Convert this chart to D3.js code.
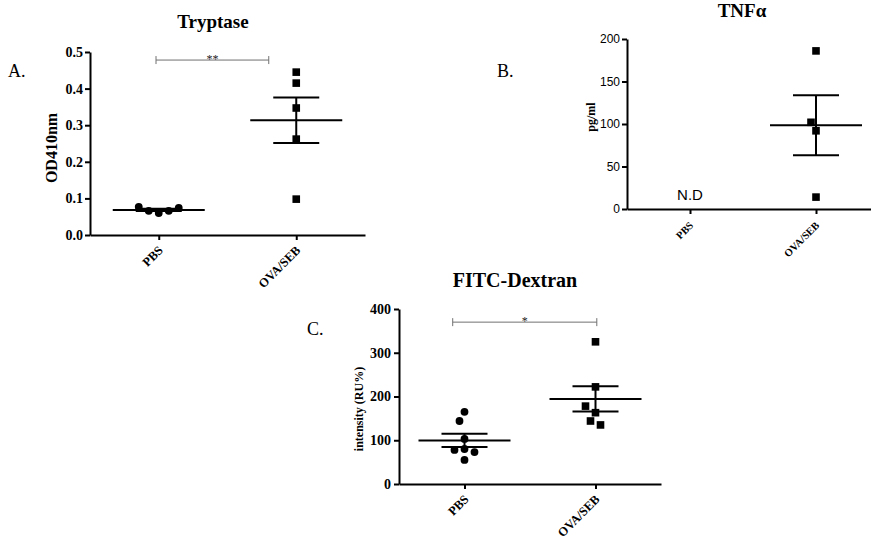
<!DOCTYPE html>
<html>
<head>
<meta charset="utf-8">
<script src="https://cdn.jsdelivr.net/npm/d3@7"></script>
<style>
  body { margin: 0; background: #fff; }
  svg { display: block; }
</style>
</head>
<body>
<svg id="chart" width="871" height="552"></svg>
<script>
const groups = ["PBS", "OVA/SEB"];

// Tryptase, OD410nm
const tryptasePBS = [0.060, 0.066, 0.066, 0.077, 0.074];
const tryptaseOVA = [0.445, 0.415, 0.347, 0.262, 0.098];
const tryptaseTicks = [0, 0.1, 0.2, 0.3, 0.4, 0.5];

// TNFa, pg/ml (PBS not detected)
const tnfPBS = [];
const tnfOVA = [186, 92, 102, 14];
const tnfTicks = [0, 50, 100, 150, 200];

// FITC-Dextran, intensity (RU%)
const fitcPBS = [165, 144, 103, 80, 78, 73, 55];
const fitcOVA = [325, 222, 163, 178, 144, 135];
const fitcTicks = [0, 100, 200, 300, 400];

// significance brackets: ends in category index units, height in data units
const tryptaseSig = { from: -0.02, to: 0.8, y: 0.478, text: "**" };
const fitcSig = { from: -0.09, to: 1.01, y: 370, text: "*" };

const svg = d3.select("#chart");
const defs = svg.append("defs");
const serif = "'Liberation Serif', 'Times New Roman', serif";
const sans = "'Liberation Sans', Arial, sans-serif";
let pathId = 0;

// simple beeswarm so points with close values get spread sideways
function swarm(values, y, step, minDist) {
  const placed = [];
  return values.map(v => {
    const py = y(v);
    let k = 0, dx = 0;
    while (true) {
      dx = k === 0 ? 0 : (k % 2 ? -1 : 1) * Math.ceil(k / 2) * step;
      if (placed.every(p => Math.hypot(p.dx - dx, p.py - py) >= minDist)) break;
      k++;
    }
    placed.push({ dx, py });
    return { v, dx, py };
  });
}

function drawPanel(cfg) {
  const g = svg.append("g");

  const x = d3.scalePoint().domain(groups).range([cfg.x0, cfg.x1]).padding(0.5);
  const y = d3.scaleLinear().domain(cfg.domain).range([cfg.yBottom, cfg.yTop]);

  // y axis
  const yAxis = g.append("g")
    .attr("transform", `translate(${cfg.x0},0)`)
    .call(d3.axisLeft(y).tickValues(cfg.ticks).tickFormat(cfg.fmt).tickSize(5).tickSizeOuter(0).tickPadding(cfg.tickPad));
  yAxis.selectAll("text")
    .attr("fill", "#000")
    .style("font-family", cfg.tickFont)
    .style("font-weight", cfg.tickWeight)
    .style("font-size", cfg.tickSize + "px");

  // x axis, labels run along a 45 degree path ending under each tick
  g.append("g")
    .attr("transform", `translate(0,${cfg.yBottom})`)
    .call(d3.axisBottom(x).tickSize(5).tickSizeOuter(0).tickFormat(""));

  groups.forEach(d => {
    const id = "cat" + (pathId++);
    const ex = x(d) + cfg.catDx, ey = cfg.yBottom + cfg.catDy;
    defs.append("path")
      .attr("id", id)
      .attr("d", `M${ex - 90},${ey + 90}L${ex},${ey}`);
    g.append("text")
      .attr("fill", "#000")
      .style("font-family", serif)
      .style("font-weight", "bold")
      .style("font-size", cfg.catSize + "px")
      .append("textPath")
      .attr("href", "#" + id)
      .attr("startOffset", "100%")
      .attr("text-anchor", "end")
      .text(d);
  });

  g.selectAll(".domain, .tick line").attr("stroke", "#000").attr("stroke-width", 2);

  // title, panel letter, y label
  g.append("text")
    .attr("x", cfg.titleX).attr("y", cfg.titleY)
    .attr("text-anchor", "middle")
    .style("font-family", serif).style("font-weight", "bold").style("font-size", cfg.titleSize + "px")
    .text(cfg.title);

  g.append("text")
    .attr("x", cfg.letterX).attr("y", cfg.letterY)
    .style("font-family", serif).style("font-size", "18px")
    .text(cfg.letter);

  g.append("text")
    .attr("transform", `translate(${cfg.ylabelX},${cfg.ylabelY}) rotate(-90)`)
    .attr("text-anchor", "middle")
    .style("font-family", serif).style("font-weight", "bold").style("font-size", cfg.ylabelSize + "px")
    .text(cfg.ylabel);

  // mean +/- SEM and the points
  cfg.series.forEach((vals, i) => {
    const cx = x(groups[i]);
    if (!vals.length) {
      g.append("text")
        .attr("x", cx).attr("y", y(0) - 9)
        .attr("text-anchor", "middle")
        .style("font-family", sans).style("font-size", "15px")
        .text("N.D");
      return;
    }
    const m = d3.mean(vals);
    const sem = d3.deviation(vals) / Math.sqrt(vals.length);

    g.append("line")
      .attr("x1", cx - 46).attr("x2", cx + 46)
      .attr("y1", y(m)).attr("y2", y(m))
      .attr("stroke", "#000").attr("stroke-width", 2);
    g.append("line")
      .attr("x1", cx).attr("x2", cx)
      .attr("y1", y(m + sem)).attr("y2", y(m - sem))
      .attr("stroke", "#000").attr("stroke-width", 2);
    [m + sem, m - sem].forEach(v => {
      g.append("line")
        .attr("x1", cx - 23).attr("x2", cx + 23)
        .attr("y1", y(v)).attr("y2", y(v))
        .attr("stroke", "#000").attr("stroke-width", 2);
    });

    const pts = swarm(vals, y, 5, 9.5);
    if (i === 0) {
      g.selectAll(null).data(pts).join("circle")
        .attr("cx", d => cx + d.dx).attr("cy", d => d.py)
        .attr("r", 3.9).attr("fill", "#000");
    } else {
      g.selectAll(null).data(pts).join("rect")
        .attr("x", d => cx + d.dx - 3.8).attr("y", d => d.py - 3.8)
        .attr("width", 7.6).attr("height", 7.6).attr("fill", "#000");
    }
  });

  // significance bracket
  if (cfg.sig) {
    const sg = cfg.sig;
    const step = x.step();
    const bx0 = x(groups[0]) + sg.from * step;
    const bx1 = x(groups[0]) + sg.to * step;
    const by = y(sg.y);
    const br = g.append("g").attr("stroke", "#707070").attr("stroke-width", 1);
    br.append("line").attr("x1", bx0).attr("x2", bx1).attr("y1", by).attr("y2", by);
    br.append("line").attr("x1", bx0).attr("x2", bx0).attr("y1", by - 4).attr("y2", by + 4);
    br.append("line").attr("x1", bx1).attr("x2", bx1).attr("y1", by - 4).attr("y2", by + 4);
    g.append("text")
      .attr("x", (bx0 + bx1) / 2).attr("y", by + 3)
      .attr("text-anchor", "middle")
      .attr("fill", "#222")
      .style("font-family", serif).style("font-size", "12px")
      .text(sg.text);
  }
}

drawPanel({
  x0: 90, x1: 365, yTop: 52, yBottom: 235,
  domain: [0, 0.5], ticks: tryptaseTicks, fmt: d3.format(".1f"),
  tickFont: serif, tickWeight: "bold", tickSize: 14, tickPad: 2,
  catSize: 12.5, catDx: 5, catDy: 16,
  series: [tryptasePBS, tryptaseOVA],
  title: "Tryptase", titleX: 213, titleY: 28, titleSize: 19,
  letter: "A.", letterX: 8, letterY: 77,
  ylabel: "OD410nm", ylabelX: 57, ylabelY: 148, ylabelSize: 16,
  sig: tryptaseSig
});

drawPanel({
  x0: 627, x1: 879, yTop: 39, yBottom: 209,
  domain: [0, 200], ticks: tnfTicks, fmt: d3.format("d"),
  tickFont: sans, tickWeight: "normal", tickSize: 12, tickPad: 2,
  catSize: 10.5, catDx: 4, catDy: 17,
  series: [tnfPBS, tnfOVA],
  title: "TNF\u03b1", titleX: 742, titleY: 17, titleSize: 19,
  letter: "B.", letterX: 497, letterY: 77,
  ylabel: "pg/ml", ylabelX: 595, ylabelY: 117, ylabelSize: 12,
  sig: null
});

drawPanel({
  x0: 399, x1: 661, yTop: 309, yBottom: 484,
  domain: [0, 400], ticks: fitcTicks, fmt: d3.format("d"),
  tickFont: serif, tickWeight: "bold", tickSize: 14, tickPad: 3,
  catSize: 12.5, catDx: 5, catDy: 16,
  series: [fitcPBS, fitcOVA],
  title: "FITC-Dextran", titleX: 515, titleY: 287, titleSize: 20,
  letter: "C.", letterX: 307, letterY: 335,
  ylabel: "intensity (RU%)", ylabelX: 363, ylabelY: 409, ylabelSize: 12,
  sig: fitcSig
});
</script>
</body>
</html>
